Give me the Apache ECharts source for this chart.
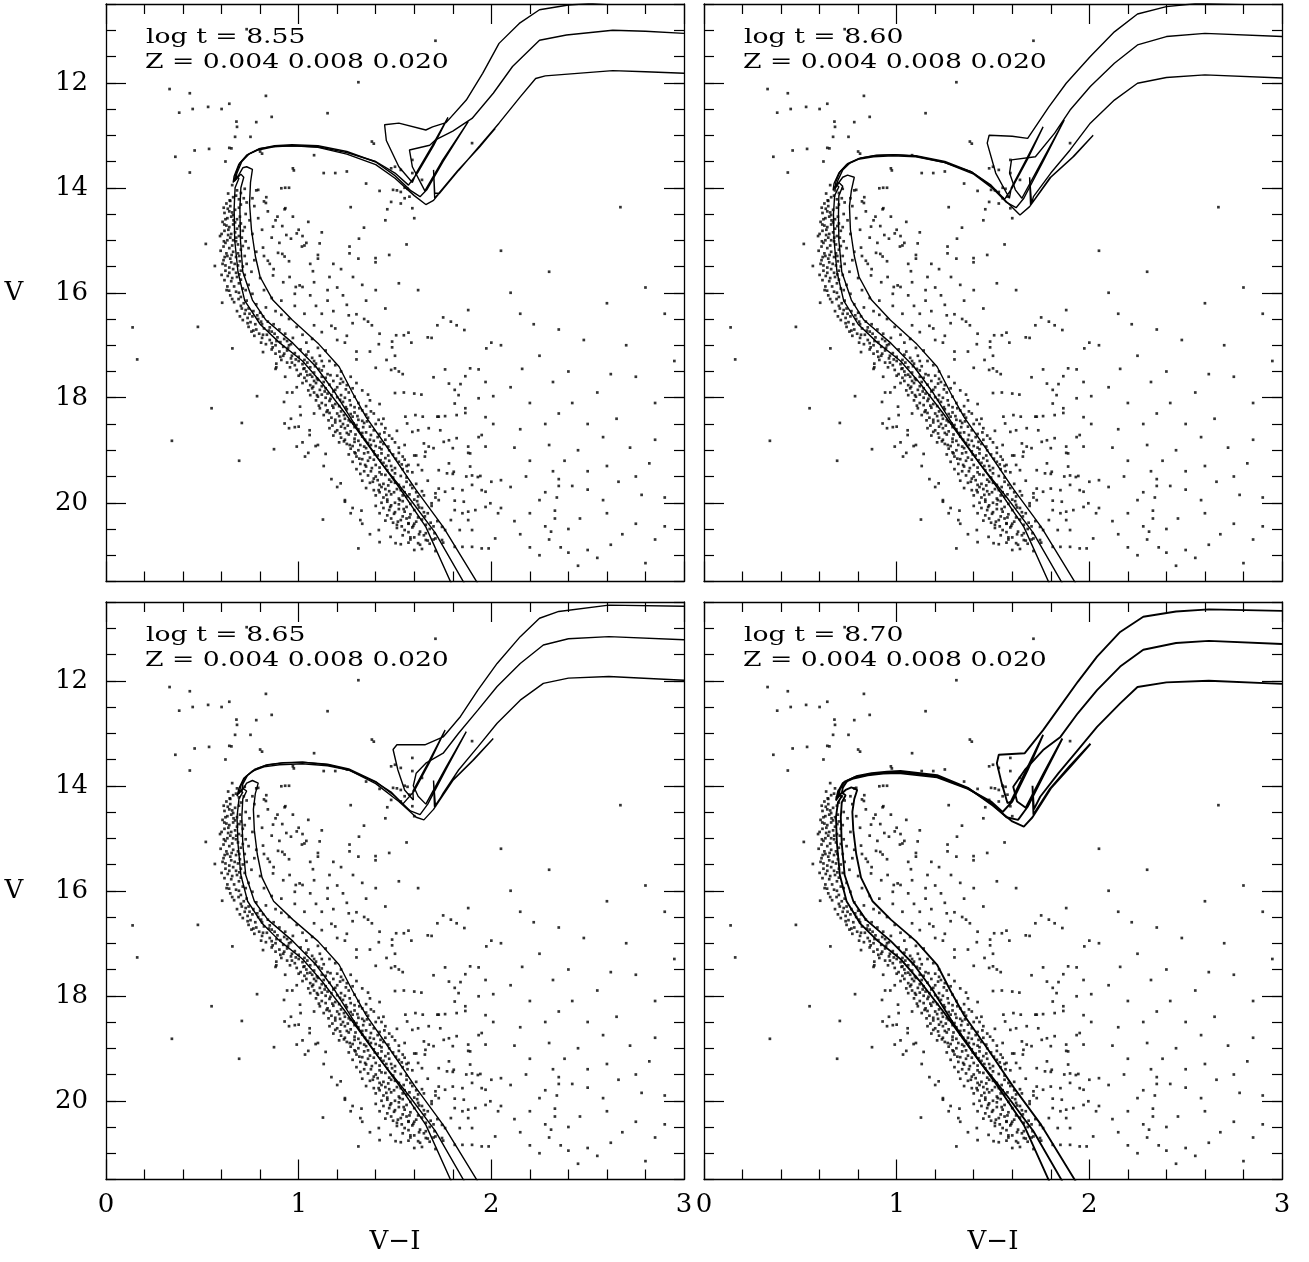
<!DOCTYPE html>
<html>
<head>
<meta charset="utf-8">
<script src="https://cdn.jsdelivr.net/npm/echarts@6/dist/echarts.min.js"></script>
<style>
html, body { margin: 0; padding: 0; background: #fff; }
#chart { width: 1309px; height: 1262px; }
</style>
</head>
<body>
<div id="chart"></div>
<script>
// panel labels
const ages = ['8.55', '8.60', '8.65', '8.70']
const metals = ['0.004', '0.008', '0.020']
const xTicks = [0, 1, 2, 3]
const yTicks = [12, 14, 16, 18, 20]

// observed stars (V-I, V), same field in every panel
const stars = [
  [0.33,12.12],[0.435,12.2],[0.38,12.57],[0.45,12.5],[0.53,12.46],[0.60,12.5],[0.64,12.4],[0.83,12.25],
  [0.68,12.84],[0.78,12.75],[0.86,12.65],[0.67,13.03],[0.75,13.03],[0.36,13.41],[0.46,13.29],[0.535,13.26],
  [0.64,13.24],[0.62,13.5],[0.435,13.71],[1.31,11.99],[1.71,11.2],[1.15,12.58],[0.73,10.98],[1.38,13.12],
  [1.39,13.16],[0.97,13.63],[0.975,13.67],[1.08,13.38],[1.13,13.72],[1.19,13.72],[1.25,13.69],[1.35,13.92],
  [1.42,14.06],[1.48,13.63],[1.50,13.6],[1.53,13.66],[1.49,14.04],[1.51,14.05],[1.53,14.08],[1.55,14.0],
  [1.64,13.85],[1.59,13.47],[0.80,13.31],[0.81,13.35],[0.91,14.01],[0.93,14.0],[0.79,14.04],[1.90,13.15],
  [2.67,14.37],[1.575,14.17],[1.48,14.27],[1.59,14.39],[1.60,14.58],[1.46,14.41],[1.55,14.2],[1.565,14.02],
  [1.59,13.72],[0.651,13.25],[0.677,12.74],
  [0.634,14.11],[0.642,14.24],[0.611,14.38],[0.64,14.45],[0.66,14.52],[0.63,14.58],[0.592,14.92],[0.565,15.49],
  [0.518,15.07],[0.138,16.66],[0.162,17.27],[0.477,16.65],[0.656,17.06],[0.548,18.2],[0.784,17.97],[0.884,17.35],
  [0.884,17.42],[0.815,17.13],[0.603,16.19],[0.639,15.96],
  [0.927,14.41],[0.927,15.31],[1.017,15.12],[1.03,15.1],[1.04,15.05],[1.10,15.28],[1.10,15.35],[1.264,15.12],
  [1.264,15.25],[1.313,14.97],[1.339,14.76],[1.399,15.34],[1.399,15.42],[1.47,15.28],[1.52,15.82],[1.33,15.85],
  [1.282,15.7],[1.2,15.9],[1.25,16.23],[1.16,15.7],[1.074,15.59],[1.005,15.86],[0.985,15.89],[1.02,15.89],
  [0.953,15.7],[0.867,15.67],[0.85,15.45],[0.84,15.39],[0.815,15.14],[0.893,15.24],[0.915,15.26],[0.96,14.97],
  [0.99,14.87],[1.109,15.06],[0.931,14.39],[0.832,14.18],[0.78,14.05],[0.82,14.26],[0.83,14.29],[1.27,14.37],
  [0.95,14.0],[1.26,16.43],[1.30,16.41],[1.34,16.5],[1.36,16.55],[1.38,16.62],[1.17,16.63],[1.19,16.68],
  [1.25,16.82],[1.30,17.27],[1.42,16.78],[1.485,16.93],[1.40,17.43],[1.37,17.12],[1.30,17.12],[1.52,17.5],
  [1.54,17.55],[1.50,17.91],[1.50,17.2],[1.62,15.95],[1.56,15.08],[1.45,14.62],[1.53,14.3],
  [0.867,14.74],[0.915,14.73],[0.936,14.9],[1.0,14.8],[0.89,14.55],[0.86,14.95],[1.05,14.65],[1.12,14.85],
  [1.18,15.45],[1.22,15.55],[1.31,15.35],[1.15,15.95],[1.06,16.05],[1.09,16.25],[0.98,16.25],[1.12,16.4],
  [1.23,16.05],[1.40,15.95],[1.45,16.3],[1.35,16.15],
  [0.84,14.45],[0.88,14.62],[0.97,14.55],[1.02,14.92],[0.9,15.05],[0.95,15.4],[1.06,15.45],[0.87,15.55],
  [0.92,15.8],[1.08,15.8],[0.98,16.02],[1.15,16.15],[0.91,16.15],[1.03,16.4],[1.18,16.35],[1.08,16.62],
  [1.2,16.9],[1.12,16.75],[1.28,16.58],[1.24,16.95],
  [0.655,13.95],[0.68,14.05],[0.70,14.1],[0.72,14.02],[0.66,14.18],[0.69,14.22],[0.625,14.3],[0.645,14.35],
  [0.70,14.32],[0.73,14.28],[0.76,14.2],[0.77,14.35],[0.67,14.42],[0.615,14.48],[0.65,14.55],[0.68,14.6],
  [0.605,14.65],[0.625,14.72],[0.66,14.7],[0.70,14.68],[0.745,14.62],[0.79,14.58],[0.635,14.8],[0.67,14.85],
  [0.71,14.82],[0.60,14.88],[0.645,14.95],[0.69,14.92],[0.76,14.88],[0.81,14.8],[0.66,15.0],[0.62,15.05],
  [0.685,15.08],[0.725,15.02],[0.64,15.15],[0.595,15.2],[0.66,15.22],[0.70,15.18],[0.74,15.15],[0.78,15.22],
  [0.63,15.3],[0.675,15.32],[0.61,15.38],[0.65,15.42],[0.695,15.4],[0.73,15.45],[0.77,15.38],[0.82,15.3],
  [0.62,15.48],[0.66,15.55],[0.70,15.58],[0.64,15.62],[0.60,15.66],[0.68,15.7],[0.72,15.66],[0.755,15.6],
  [0.80,15.72],[0.65,15.78],[0.69,15.82],[0.63,15.88],[0.71,15.92],[0.74,15.85],[0.675,15.98],[0.645,16.05],
  [0.70,16.08],[0.76,16.02],[0.82,15.95],[0.73,16.15],[0.86,16.1],[0.665,16.18],
  [0.675,14.15],[0.645,14.25],[0.715,14.2],[0.69,14.38],[0.655,14.47],[0.725,14.5],[0.62,14.6],[0.695,14.55],
  [0.67,14.66],[0.64,14.75],[0.72,14.75],[0.615,14.82],[0.68,14.78],[0.65,14.88],[0.705,14.95],[0.63,15.0],
  [0.675,15.02],[0.61,15.12],[0.655,15.1],[0.71,15.11],[0.685,15.25],[0.625,15.25],[0.72,15.3],[0.645,15.35],
  [0.605,15.45],[0.685,15.48],[0.64,15.52],[0.71,15.5],[0.62,15.58],[0.675,15.62],[0.655,15.72],[0.615,15.76],
  [0.70,15.75],[0.665,15.88],[0.725,15.95],[0.69,16.0],[0.655,16.12],[0.715,16.2],
  [0.632,14.4],[0.662,14.62],[0.614,14.7],[0.692,14.73],[0.634,14.9],[0.676,14.95],[0.612,15.02],[0.652,15.28],
  [0.692,15.3],[0.616,15.32],[0.668,15.45],[0.632,15.68],[0.692,15.65],[0.626,15.95],[0.688,16.12],
  [0.70,16.25],[0.74,16.3],[0.78,16.22],[0.83,16.28],[0.68,16.35],[0.72,16.4],[0.76,16.45],[0.80,16.38],
  [0.88,16.35],[0.91,16.42],[0.71,16.52],[0.75,16.56],[0.79,16.5],[0.84,16.55],[0.87,16.6],[0.95,16.5],
  [0.74,16.65],[0.78,16.7],[0.82,16.68],[0.86,16.74],[0.90,16.7],[0.93,16.78],[0.99,16.65],[0.77,16.82],
  [0.81,16.86],[0.85,16.9],[0.89,16.85],[0.94,16.92],[0.97,16.86],[1.02,16.8],[0.83,16.98],[0.88,17.0],
  [0.92,17.03],[0.96,16.98],[1.04,16.95],[1.07,16.88],
  [0.725,16.33],[0.765,16.35],[0.695,16.45],[0.815,16.45],[0.735,16.48],[0.775,16.6],[0.81,16.6],[0.85,16.66],
  [0.755,16.74],[0.795,16.78],[0.835,16.8],[0.875,16.78],[0.805,16.95],[0.86,16.96],[0.905,16.94],[0.95,17.0],
  [0.705,16.3],[0.745,16.4],[0.785,16.43],[0.735,16.58],[0.805,16.55],[0.765,16.72],[0.845,16.72],[0.815,16.8],
  [0.885,16.92],[0.925,16.88],[0.865,17.04],[0.945,17.05],[0.905,17.22],[0.985,17.27],[1.045,17.33],[0.965,17.33],
  [1.025,17.45],[1.085,17.4],
  [0.86,17.08],[0.90,17.12],[0.94,17.1],[0.98,17.15],[1.01,17.08],[1.05,17.12],[1.10,17.05],[1.14,17.1],
  [0.92,17.2],[0.96,17.25],[1.0,17.22],[1.03,17.28],[1.07,17.24],[1.11,17.2],[1.16,17.3],[0.94,17.33],
  [0.98,17.38],[1.02,17.36],[1.06,17.42],[1.09,17.35],[1.13,17.4],[1.19,17.38],[0.99,17.47],[1.04,17.5],
  [1.08,17.52],[1.12,17.48],[1.15,17.55],[1.22,17.5],
  [0.88,17.16],[0.925,17.16],[0.965,17.2],[1.04,17.18],[1.08,17.3],[0.91,17.28],[1.0,17.3],[1.12,17.3],
  [0.955,17.42],[1.03,17.44],[1.105,17.45],[1.01,17.55],[1.06,17.56],[1.12,17.6],[1.2,17.58],[1.04,17.68],
  [1.08,17.68],[1.13,17.7],[1.23,17.7],[1.07,17.82],[1.14,17.82],[1.19,17.85],[1.28,17.82],[1.12,17.94],
  [1.17,17.95],[1.24,18.0],
  [1.0,17.58],[1.03,17.62],[1.07,17.6],[1.10,17.66],[1.14,17.62],[1.18,17.68],[1.22,17.64],[1.27,17.6],
  [1.02,17.72],[1.06,17.76],[1.09,17.72],[1.12,17.78],[1.16,17.75],[1.2,17.8],[1.25,17.76],[1.30,17.72],
  [1.05,17.86],[1.08,17.9],[1.11,17.85],[1.15,17.92],[1.18,17.88],[1.22,17.95],[1.26,17.9],[1.33,17.86],
  [1.1,17.98],[1.14,18.0],[1.2,17.99],[1.29,17.98],[1.36,17.94],
  [1.045,17.57],[1.095,17.63],[1.165,17.57],[1.215,17.73],[1.075,17.79],[1.135,17.88],[1.245,17.84],[1.095,17.95],
  [1.165,18.02],[1.215,18.04],[1.265,18.05],[1.105,18.15],[1.175,18.15],[1.245,18.18],[1.315,18.2],[1.145,18.27],
  [1.235,18.33],[1.305,18.35],[1.375,18.26],[1.155,18.43],[1.215,18.44],[1.285,18.49],[1.355,18.45],[1.415,18.42],
  [1.09,18.05],[1.12,18.1],[1.16,18.06],[1.19,18.12],[1.23,18.08],[1.27,18.14],[1.31,18.1],[1.37,18.05],
  [1.42,18.12],[1.11,18.2],[1.15,18.24],[1.18,18.19],[1.22,18.26],[1.25,18.22],[1.29,18.28],[1.33,18.24],
  [1.39,18.3],[1.13,18.33],[1.17,18.38],[1.21,18.35],[1.24,18.4],[1.28,18.36],[1.31,18.42],[1.36,18.38],
  [1.44,18.4],[1.19,18.47],[1.23,18.5],[1.27,18.46],[1.3,18.52],[1.34,18.48],[1.4,18.5],
  [1.14,18.14],[1.21,18.16],[1.29,18.18],[1.35,18.16],[1.16,18.29],[1.2,18.3],[1.27,18.31],[1.35,18.32],
  [1.19,18.42],[1.26,18.43],[1.33,18.44],[1.22,18.55],[1.29,18.56],[1.37,18.55],[1.43,18.5],[1.19,18.65],
  [1.25,18.67],[1.33,18.67],[1.42,18.69],[1.24,18.8],[1.31,18.82],[1.39,18.82],[1.45,18.8],[1.28,18.92],
  [1.34,18.93],[1.42,18.95],[1.52,18.95],
  [1.175,18.53],[1.255,18.53],[1.335,18.56],[1.215,18.68],[1.295,18.7],[1.375,18.71],[1.445,18.66],[1.235,18.83],
  [1.345,18.8],[1.425,18.84],[1.485,18.78],[1.265,18.9],[1.375,18.9],[1.465,18.93],[1.295,19.06],[1.395,19.08],
  [1.465,19.1],[1.315,19.16],[1.425,19.19],[1.505,19.16],[1.345,19.28],[1.455,19.3],[1.535,19.27],[1.375,19.4],
  [1.485,19.38],[1.565,19.4],
  [1.16,18.58],[1.2,18.62],[1.24,18.58],[1.27,18.64],[1.31,18.6],[1.35,18.66],[1.39,18.62],[1.45,18.58],
  [1.51,18.63],[1.18,18.72],[1.22,18.76],[1.26,18.7],[1.29,18.78],[1.33,18.74],[1.37,18.8],[1.41,18.75],
  [1.47,18.72],[1.21,18.85],[1.25,18.88],[1.29,18.84],[1.32,18.9],[1.36,18.86],[1.4,18.92],[1.44,18.88],
  [1.5,18.85],[1.55,18.9],[1.27,18.97],[1.31,19.0],[1.35,18.96],[1.39,19.02],[1.43,18.98],[1.47,19.0],
  [1.26,19.08],[1.3,19.12],[1.34,19.06],[1.37,19.14],[1.41,19.1],[1.45,19.15],[1.49,19.08],[1.54,19.12],
  [1.6,19.1],[1.28,19.22],[1.32,19.26],[1.36,19.2],[1.4,19.28],[1.44,19.24],[1.48,19.3],[1.52,19.22],
  [1.57,19.28],[1.3,19.36],[1.34,19.4],[1.38,19.34],[1.42,19.42],[1.46,19.38],[1.5,19.44],[1.54,19.36],
  [1.59,19.42],[1.64,19.38],[1.36,19.48],[1.4,19.5],[1.45,19.47],[1.49,19.52],[1.53,19.49],
  [1.29,19.04],[1.36,19.04],[1.43,19.06],[1.52,19.05],[1.33,19.17],[1.39,19.18],[1.47,19.2],[1.55,19.18],
  [1.35,19.31],[1.42,19.33],[1.5,19.34],[1.56,19.3],[1.32,19.45],[1.43,19.46],[1.47,19.56],[1.56,19.52],
  [1.39,19.54],[1.5,19.62],[1.58,19.66],[1.42,19.66],[1.45,19.74],[1.53,19.76],[1.61,19.8],[1.42,19.8],
  [1.46,19.94],[1.54,19.86],[1.62,19.88],
  [1.385,19.6],[1.465,19.67],[1.545,19.7],[1.415,19.76],[1.495,19.8],[1.575,19.84],[1.455,19.85],[1.525,19.95],
  [1.615,19.97],[1.475,20.08],[1.545,20.12],[1.625,20.09],[1.495,20.21],[1.575,20.28],[1.655,20.26],[1.515,20.36],
  [1.595,20.44],[1.685,20.38],[1.535,20.45],[1.625,20.6],[1.705,20.58],
  [1.33,19.58],[1.37,19.62],[1.41,19.57],[1.44,19.64],[1.48,19.6],[1.52,19.66],[1.56,19.6],[1.61,19.64],
  [1.67,19.58],[1.35,19.72],[1.39,19.76],[1.43,19.7],[1.47,19.78],[1.51,19.74],[1.55,19.8],[1.59,19.72],
  [1.64,19.78],[1.4,19.86],[1.44,19.9],[1.48,19.84],[1.52,19.92],[1.56,19.88],[1.6,19.94],[1.65,19.86],
  [1.71,19.9],[1.46,19.98],[1.5,20.0],[1.54,19.97],[1.58,20.02],
  [1.4,20.06],[1.44,20.1],[1.48,20.05],[1.52,20.12],[1.56,20.08],[1.6,20.14],[1.64,20.1],[1.69,20.06],
  [1.42,20.2],[1.46,20.24],[1.5,20.18],[1.54,20.26],[1.58,20.22],[1.62,20.28],[1.67,20.2],[1.45,20.34],
  [1.49,20.38],[1.53,20.33],[1.57,20.4],[1.61,20.36],[1.66,20.42],[1.72,20.35],[1.51,20.48],[1.55,20.52],
  [1.59,20.47],[1.63,20.55],[1.68,20.5],[1.54,20.62],[1.6,20.66],[1.65,20.62],[1.7,20.7],[1.57,20.76],
  [1.63,20.8],[1.68,20.78],[1.75,20.76],[1.6,20.9],[1.71,20.92],
  [1.43,20.0],[1.52,20.03],[1.62,20.04],[1.47,20.14],[1.55,20.17],[1.65,20.18],[1.48,20.3],[1.56,20.3],
  [1.64,20.32],[1.51,20.42],[1.6,20.4],[1.7,20.45],[1.57,20.56],[1.66,20.58],[1.58,20.7],[1.67,20.72],
  [1.64,20.88],
  [1.0,18.55],[0.96,18.4],[1.02,18.85],[1.05,19.05],[1.1,18.9],[1.13,19.3],[1.17,19.55],[1.2,19.7],
  [1.24,19.95],[1.28,20.1],[1.33,20.4],[1.37,20.6],[1.42,20.75],[1.08,18.3],[1.06,17.95],[0.99,17.8],
  [0.93,17.6],[0.88,17.45],[0.705,18.48],[0.691,19.2],[0.872,18.98],[0.924,18.08],[0.94,17.9],[0.967,17.9],
  [1.007,18.17],[1.01,18.33],[0.927,18.49],[0.95,18.58],[0.98,18.56],[1.057,18.62],[1.057,18.71],[1.033,19.12],
  [0.99,18.93],[1.088,18.92],[1.126,20.32],[1.14,19.07],[1.218,19.63],[1.27,20.2],[1.24,19.98],[1.31,20.87],
  [1.32,20.33],[1.326,20.15],[0.342,18.82],
  [1.416,20.52],[1.477,20.65],[1.503,20.77],[1.53,20.79],[1.57,20.39],[1.58,20.66],[1.62,20.77],[1.66,20.71],
  [1.71,20.68],[1.744,20.71],[1.76,20.52],[1.81,20.84],[1.85,20.84],[1.90,20.84],[1.95,20.87],[1.986,20.87],
  [2.02,20.68],[1.90,20.52],[1.88,20.33],[1.85,20.2],[1.917,20.14],[1.97,20.08],[2.035,20.2],[1.995,20.01],
  [1.95,19.76],[1.97,19.79],[1.943,19.49],[1.87,19.5],[1.90,19.48],[1.93,19.51],[1.9,19.66],[2.0,19.6],
  [2.05,19.57],[1.857,19.98],[1.88,20.17],[1.81,19.96],[1.85,19.76],[1.79,20.33],[1.744,20.46],[1.836,20.52],
  [1.81,20.14],[1.76,19.79],[1.77,19.44],[1.80,19.45],[1.78,19.25],[1.89,19.31],[1.88,19.05],[1.80,18.96],
  [1.82,18.77],[1.753,18.84],[1.78,18.81],[1.70,18.96],[1.735,18.62],[1.76,18.35],[1.82,18.33],[1.865,18.29],
  [1.727,18.36],[1.81,18.11],[1.865,18.2],[1.934,18.01],[1.97,18.37],[2.01,18.5],[1.95,18.71],[1.934,18.75],
  [1.88,18.93],[1.97,18.93],[1.89,19.06],[2.01,17.97],[1.97,17.7],[1.974,17.06],[2.0,16.95],[1.934,17.46],
  [1.89,17.44],[1.865,17.59],[1.81,17.85],[1.78,17.73],[1.84,17.74],[1.76,17.46],[1.70,17.61],[1.83,17.95],
  [1.88,16.33],[1.82,16.62],[1.86,16.71],[1.79,16.55],[1.75,16.47],[1.72,16.62],[1.67,16.85],[1.69,16.86],
  [1.585,16.95],[1.57,16.76],[1.546,16.81],[1.506,16.81],[1.485,17.04],[1.416,16.98],[1.48,17.47],[1.456,17.28],
  [1.5,17.44],[1.546,17.9],[1.60,17.92],[1.62,18.62],[1.637,17.94],[1.675,18.58],[1.72,18.36],[1.606,18.33],
  [1.554,18.36],[1.563,18.49],[1.644,18.36],[1.59,18.65],[1.65,18.87],[1.675,18.93],[1.658,19.03],[1.655,19.12],
  [1.61,19.1],[1.62,19.28],[1.727,19.38],[1.805,19.41],[1.80,19.73],[1.727,19.73],[1.71,19.82],[1.727,19.95],
  [1.69,20.01],
  [2.05,15.2],[2.1,16.0],[2.3,15.6],[2.15,16.4],[2.35,16.7],[2.6,16.2],
  [2.8,15.9],[2.05,17.0],[2.25,17.2],[2.4,17.5],[2.1,17.8],[2.55,17.9],[2.75,17.6],[2.95,17.3],
  [2.2,18.1],[2.35,18.3],[2.5,18.5],[2.15,18.6],[2.65,18.4],[2.85,18.8],[2.3,18.9],[2.45,19.0],
  [2.2,19.2],[2.32,19.4],[2.35,19.55],[2.6,19.3],[2.75,19.5],[2.1,19.7],[2.28,19.8],[2.34,19.9],
  [2.5,19.75],[2.9,19.9],[2.05,20.1],[2.2,20.2],[2.33,20.3],[2.4,20.5],[2.6,20.2],[2.75,20.4],
  [2.15,20.6],[2.3,20.7],[2.36,20.85],[2.5,20.9],[2.85,20.7],[2.25,21.0],[2.45,21.2],
  [2.9,16.4],[2.22,16.6],[2.48,16.9],[2.7,17.0],[2.16,17.45],
  [2.32,17.7],[2.62,17.55],[2.85,18.1],[2.42,18.1],[2.28,18.5],[2.58,18.75],[2.72,18.95],[2.12,18.95],
  [2.38,19.2],[2.5,19.4],[2.66,19.6],[2.82,19.25],[2.18,19.5],[2.42,19.68],[2.25,19.95],[2.58,19.95],
  [2.78,19.85],[2.12,20.35],[2.28,20.45],[2.46,20.3],[2.68,20.6],[2.9,20.45],[2.2,20.85],[2.4,20.95],
  [2.62,20.8],[2.33,20.15],[2.35,19.68],[2.31,20.55],[2.55,21.05],[2.8,21.15]
]

// isochrones, one polyline per metallicity (Z = 0.004, 0.008, 0.020)
const iso855a = [
  [1.80,21.6],[1.66,20.46],[1.52,19.7],[1.38,19.0],[1.24,18.29],[1.12,17.72],[1.02,17.3],[0.90,16.95],
  [0.80,16.6],[0.72,16.15],[0.685,15.6],[0.668,15.0],[0.665,14.4],[0.67,14.0],[0.69,13.82],[0.675,13.79],
  [0.66,13.9],[0.665,13.78],[0.69,13.55],[0.73,13.38],[0.79,13.28],[0.87,13.22],[0.96,13.2],[1.10,13.22],
  [1.25,13.33],[1.40,13.5],[1.50,13.72],[1.57,13.95],[1.62,13.7],[1.70,13.2],[1.775,12.66],[1.768,12.68],
  [1.693,13.2],[1.613,13.7],[1.59,13.9],[1.52,13.6],[1.455,13.1],[1.446,12.8],[1.52,12.77],[1.66,12.9],
  [1.695,12.84],[1.765,12.76],[1.87,12.33],[1.955,11.82],[2.04,11.25],[2.145,10.87],[2.25,10.61],[2.40,10.52],
  [2.6,10.47],[3.0,10.45]
]
const iso855b = [
  [1.87,21.6],[1.71,20.58],[1.57,19.89],[1.43,19.25],[1.30,18.56],[1.19,17.91],[1.09,17.41],[0.97,16.96],
  [0.83,16.52],[0.76,16.14],[0.71,15.6],[0.698,15.0],[0.695,14.4],[0.70,14.0],[0.715,13.8],[0.70,13.74],
  [0.665,13.88],[0.672,13.75],[0.695,13.53],[0.735,13.37],[0.795,13.26],[0.875,13.2],[0.965,13.18],[1.10,13.2],
  [1.25,13.31],[1.40,13.51],[1.50,13.77],[1.58,14.05],[1.63,14.17],[1.665,14.04],[1.75,13.5],[1.88,12.74],
  [1.873,12.76],[1.743,13.5],[1.655,14.06],[1.59,13.6],[1.575,13.28],[1.68,13.19],[1.71,13.09],[1.80,12.92],
  [1.90,12.68],[2.01,12.2],[2.11,11.69],[2.25,11.19],[2.39,11.09],[2.63,11.0],[2.80,11.02],[3.0,11.06]
]
const iso855c = [
  [1.94,21.6],[1.75,20.46],[1.61,19.76],[1.47,19.0],[1.35,18.37],[1.28,17.91],[1.21,17.41],[1.10,16.96],
  [0.967,16.52],[0.866,16.14],[0.80,15.7],[0.775,15.3],[0.755,14.8],[0.745,14.3],[0.75,13.9],[0.76,13.65],
  [0.73,13.6],[0.71,13.62],[0.69,13.75],[0.67,13.86],[0.68,13.72],[0.705,13.5],[0.745,13.35],[0.80,13.25],
  [0.88,13.21],[0.97,13.2],[1.10,13.23],[1.25,13.36],[1.40,13.56],[1.50,13.82],[1.60,14.15],[1.66,14.32],
  [1.70,14.24],[1.83,13.66],[1.94,13.22],[2.02,12.87],[2.014,12.9],[1.934,13.24],[1.824,13.68],[1.706,14.2],
  [1.70,13.66],[1.706,14.1],[1.73,14.11],[1.83,13.67],[1.94,13.2],[2.04,12.77],[2.15,12.27],[2.23,11.92],
  [2.28,11.87],[2.63,11.77],[2.80,11.79],[3.0,11.82]
]
const iso860a = [
  [1.80,21.6],[1.66,20.46],[1.52,19.7],[1.38,19.0],[1.24,18.29],[1.12,17.72],[1.02,17.3],[0.90,16.95],
  [0.80,16.6],[0.725,16.15],[0.69,15.6],[0.675,15.0],[0.672,14.5],[0.678,14.15],[0.70,13.98],[0.685,13.95],
  [0.67,14.05],[0.675,13.92],[0.70,13.72],[0.74,13.56],[0.80,13.46],[0.88,13.41],[0.98,13.39],[1.10,13.41],
  [1.25,13.52],[1.39,13.7],[1.49,13.95],[1.56,14.22],[1.60,14.0],[1.68,13.45],[1.76,12.84],[1.753,12.86],
  [1.673,13.46],[1.595,14.0],[1.585,14.2],[1.514,13.72],[1.47,13.15],[1.48,13.0],[1.60,13.02],[1.68,13.06],
  [1.79,12.46],[1.88,12.01],[2.005,11.5],[2.13,11.03],[2.25,10.69],[2.40,10.55],[2.56,10.49],[3.0,10.45]
]
const iso860b = [
  [1.87,21.6],[1.71,20.58],[1.57,19.89],[1.43,19.25],[1.30,18.56],[1.19,17.91],[1.09,17.41],[0.97,16.96],
  [0.83,16.52],[0.765,16.14],[0.715,15.6],[0.70,15.0],[0.698,14.5],[0.70,14.15],[0.72,13.97],[0.70,13.9],
  [0.68,14.02],[0.685,13.88],[0.705,13.7],[0.745,13.54],[0.805,13.44],[0.885,13.39],[0.985,13.37],[1.10,13.39],
  [1.25,13.5],[1.39,13.7],[1.49,13.97],[1.57,14.28],[1.62,14.38],[1.66,14.2],[1.76,13.5],[1.87,12.71],
  [1.863,12.73],[1.753,13.5],[1.65,14.2],[1.616,14.04],[1.586,13.72],[1.596,13.47],[1.72,13.41],[1.82,12.96],
  [1.90,12.52],[2.005,12.07],[2.13,11.63],[2.25,11.28],[2.40,11.12],[2.60,11.06],[3.0,11.12]
]
const iso860c = [
  [1.94,21.6],[1.75,20.46],[1.61,19.76],[1.47,19.0],[1.35,18.37],[1.28,17.91],[1.21,17.41],[1.10,16.96],
  [0.967,16.52],[0.87,16.14],[0.805,15.7],[0.78,15.3],[0.76,14.8],[0.755,14.35],[0.765,14.05],[0.78,13.8],
  [0.745,13.76],[0.72,13.8],[0.70,13.9],[0.684,13.98],[0.695,13.86],[0.72,13.66],[0.76,13.52],[0.815,13.43],
  [0.895,13.38],[0.99,13.37],[1.10,13.4],[1.25,13.52],[1.40,13.74],[1.50,14.02],[1.58,14.3],[1.64,14.52],
  [1.69,14.36],[1.80,13.8],[1.92,13.4],[2.02,13.0],[2.013,13.02],[1.913,13.42],[1.793,13.82],[1.695,14.33],
  [1.69,13.8],[1.70,14.3],[1.71,14.17],[1.80,13.72],[1.90,13.28],[2.005,12.77],[2.13,12.33],[2.25,12.01],
  [2.40,11.9],[2.60,11.85],[3.0,11.91]
]
const iso865a = [
  [1.80,21.6],[1.66,20.46],[1.52,19.7],[1.38,19.0],[1.24,18.29],[1.12,17.72],[1.02,17.3],[0.90,16.95],
  [0.81,16.62],[0.735,16.2],[0.70,15.7],[0.685,15.1],[0.68,14.6],[0.69,14.25],[0.71,14.12],[0.695,14.1],
  [0.68,14.2],[0.69,14.05],[0.715,13.86],[0.76,13.72],[0.82,13.64],[0.90,13.6],[1.02,13.58],[1.15,13.62],
  [1.26,13.7],[1.40,13.93],[1.48,14.12],[1.54,14.35],[1.60,14.1],[1.68,13.55],[1.76,12.94],[1.753,12.96],
  [1.673,13.56],[1.593,14.1],[1.595,14.27],[1.55,14.08],[1.515,13.7],[1.49,13.31],[1.51,13.22],[1.655,13.22],
  [1.75,13.07],[1.84,12.68],[1.93,12.18],[2.03,11.67],[2.15,11.16],[2.25,10.81],[2.35,10.68],[2.61,10.56],
  [3.0,10.58]
]
const iso865b = [
  [1.87,21.6],[1.71,20.58],[1.57,19.89],[1.43,19.25],[1.30,18.56],[1.19,17.91],[1.09,17.41],[0.97,16.96],
  [0.84,16.55],[0.77,16.2],[0.725,15.7],[0.71,15.1],[0.705,14.6],[0.71,14.25],[0.73,14.1],[0.71,14.05],
  [0.69,14.15],[0.70,14.0],[0.725,13.83],[0.77,13.69],[0.83,13.61],[0.91,13.57],[1.02,13.55],[1.15,13.59],
  [1.26,13.68],[1.40,13.92],[1.50,14.2],[1.58,14.48],[1.63,14.55],[1.67,14.35],[1.77,13.65],[1.87,12.97],
  [1.863,12.99],[1.763,13.66],[1.66,14.35],[1.62,14.2],[1.595,14.0],[1.61,13.76],[1.66,13.57],[1.75,13.38],
  [1.83,13.0],[1.93,12.56],[2.03,12.11],[2.15,11.67],[2.27,11.32],[2.40,11.2],[2.61,11.16],[3.0,11.22]
]
const iso865c = [
  [1.94,21.6],[1.75,20.46],[1.61,19.76],[1.47,19.0],[1.35,18.37],[1.28,17.91],[1.21,17.41],[1.10,16.96],
  [0.97,16.55],[0.87,16.2],[0.81,15.75],[0.785,15.3],[0.77,14.85],[0.765,14.45],[0.775,14.15],[0.79,13.95],
  [0.76,13.9],[0.73,13.95],[0.705,14.1],[0.71,13.97],[0.735,13.8],[0.78,13.68],[0.84,13.6],[0.92,13.56],
  [1.02,13.55],[1.15,13.6],[1.26,13.7],[1.40,13.96],[1.52,14.3],[1.61,14.6],[1.65,14.65],[1.70,14.45],
  [1.80,13.9],[1.91,13.5],[2.01,13.1],[2.003,13.12],[1.903,13.52],[1.793,13.92],[1.705,14.4],[1.70,13.9],
  [1.71,14.4],[1.75,14.14],[1.83,13.7],[1.93,13.26],[2.03,12.81],[2.15,12.37],[2.27,12.05],[2.40,11.95],
  [2.61,11.92],[3.0,11.99]
]
const iso870a = [
  [1.80,21.6],[1.66,20.46],[1.52,19.7],[1.38,19.0],[1.24,18.29],[1.12,17.72],[1.02,17.3],[0.90,16.95],
  [0.81,16.62],[0.74,16.2],[0.705,15.7],[0.69,15.1],[0.685,14.6],[0.695,14.32],[0.715,14.2],[0.70,14.18],
  [0.685,14.28],[0.695,14.12],[0.72,13.95],[0.77,13.87],[0.85,13.8],[0.93,13.77],[1.01,13.76],[1.21,13.84],
  [1.37,14.06],[1.49,14.3],[1.55,14.5],[1.60,14.3],[1.68,13.7],[1.76,13.03],[1.753,13.05],[1.673,13.7],
  [1.593,14.3],[1.575,14.33],[1.545,13.95],[1.52,13.57],[1.53,13.41],[1.665,13.38],[1.76,12.94],[1.84,12.53],
  [1.94,12.02],[2.04,11.54],[2.16,11.07],[2.28,10.78],[2.45,10.68],[2.62,10.64],[3.0,10.67]
]
const iso870b = [
  [1.87,21.6],[1.71,20.58],[1.57,19.89],[1.43,19.25],[1.30,18.56],[1.19,17.91],[1.09,17.41],[0.97,16.96],
  [0.84,16.55],[0.775,16.2],[0.73,15.7],[0.715,15.1],[0.71,14.6],[0.715,14.32],[0.735,14.18],[0.715,14.13],
  [0.695,14.22],[0.705,14.07],[0.73,13.92],[0.78,13.84],[0.86,13.78],[0.94,13.75],[1.02,13.74],[1.21,13.82],
  [1.37,14.05],[1.49,14.33],[1.57,14.6],[1.63,14.65],[1.68,14.4],[1.77,13.75],[1.86,13.1],[1.853,13.12],
  [1.763,13.76],[1.67,14.42],[1.625,14.3],[1.605,14.02],[1.665,13.7],[1.76,13.32],[1.85,13.07],[1.94,12.62],
  [2.04,12.18],[2.16,11.73],[2.28,11.41],[2.45,11.28],[2.62,11.24],[3.0,11.3]
]
const iso870c = [
  [1.94,21.6],[1.75,20.46],[1.61,19.76],[1.47,19.0],[1.35,18.37],[1.28,17.91],[1.21,17.41],[1.10,16.96],
  [0.97,16.55],[0.875,16.2],[0.815,15.75],[0.79,15.3],[0.775,14.85],[0.77,14.5],[0.78,14.25],[0.795,14.08],
  [0.765,14.03],[0.735,14.08],[0.715,14.15],[0.72,14.04],[0.745,13.9],[0.79,13.82],[0.87,13.76],[0.95,13.73],
  [1.02,13.72],[1.21,13.8],[1.37,14.04],[1.50,14.38],[1.60,14.68],[1.66,14.78],[1.705,14.6],[1.80,14.05],
  [1.91,13.6],[2.006,13.2],[1.999,13.22],[1.899,13.62],[1.793,14.07],[1.71,14.55],[1.705,14.0],[1.712,14.45],
  [1.745,14.21],[1.84,13.76],[1.94,13.32],[2.04,12.88],[2.16,12.43],[2.25,12.12],[2.40,12.03],[2.62,12.0],
  [3.0,12.06]
]
const isochrones = [
  [iso855a, iso855b, iso855c],
  [iso860a, iso860b, iso860c],
  [iso865a, iso865b, iso865c],
  [iso870a, iso870b, iso870c]
]

const chart = echarts.init(document.getElementById('chart'), null, { renderer: 'canvas' })

const FONT = 'DejaVu Serif'
const W = 578, H = 577.5
const panels = [
  { left: 106, top: 4, xLab: false, yLab: true },
  { left: 704, top: 4, xLab: false, yLab: false },
  { left: 106, top: 602, xLab: true, yLab: true },
  { left: 704, top: 602, xLab: true, yLab: false }
]
const lineCol = '#000'

const grids = [], xAxes = [], yAxes = [], series = [], graphics = []

panels.forEach((p, i) => {
  grids.push({ left: p.left, top: p.top, width: W, height: H, outerBoundsMode: 'none', containLabel: false })
  ;['bottom', 'top'].forEach(pos => {
    xAxes.push({
      gridIndex: i, type: 'value', position: pos, min: 0, max: 3, interval: 1,
      axisLine: { show: true, onZero: false, lineStyle: { color: lineCol, width: 1.3 } },
      axisTick: { show: true, inside: true, length: 20, lineStyle: { color: lineCol, width: 1.2 } },
      minorTick: { show: true, splitNumber: 5, length: 10, lineStyle: { color: lineCol, width: 1.2 } },
      splitLine: { show: false }, minorSplitLine: { show: false },
      axisLabel: {
        show: pos === 'bottom' && p.xLab, margin: 13, color: '#000',
        fontFamily: FONT, fontSize: 26, customValues: xTicks
      }
    })
  })
  ;['left', 'right'].forEach(pos => {
    // minor ticks every 0.5 mag
    yAxes.push({
      gridIndex: i, type: 'value', position: pos, inverse: true, min: 10.5, max: 21.5, interval: 0.5,
      axisLine: { show: true, onZero: false, lineStyle: { color: lineCol, width: 1.3 } },
      axisTick: { show: true, inside: true, length: 10, lineStyle: { color: lineCol, width: 1.2 } },
      splitLine: { show: false },
      axisLabel: { show: false }
    })
    // major ticks with labels
    yAxes.push({
      gridIndex: i, type: 'value', position: pos, inverse: true, min: 10.5, max: 21.5, interval: 0.5,
      axisLine: { show: false, onZero: false },
      axisTick: { show: true, inside: true, length: 20, customValues: yTicks, lineStyle: { color: lineCol, width: 1.2 } },
      splitLine: { show: false },
      axisLabel: {
        show: pos === 'left' && p.yLab, customValues: yTicks, margin: 18, color: '#000',
        fontFamily: FONT, fontSize: 26
      }
    })
  })

  series.push({
    type: 'scatter', xAxisIndex: i * 2, yAxisIndex: i * 4, data: stars,
    symbol: 'rect', symbolSize: 2.7, itemStyle: { color: '#000' }, silent: true, z: 2
  })
  isochrones[i].forEach(iso => {
    series.push({
      type: 'line', xAxisIndex: i * 2, yAxisIndex: i * 4, data: iso,
      showSymbol: false, symbol: 'none', clip: true, silent: true, z: 3,
      lineStyle: { color: '#000', width: i === 3 ? 1.9 : 1.4 }
    })
  })

  graphics.push({
    type: 'text', x: p.left + 40, y: p.top + 34, scaleX: 1.27,
    style: { text: 'log t = ' + ages[i], font: '21px "' + FONT + '"', fill: '#000', verticalAlign: 'middle' }
  })
  graphics.push({
    type: 'text', x: p.left + 39, y: p.top + 59, scaleX: 1.27,
    style: { text: 'Z = ' + metals.join(' '), font: '21px "' + FONT + '"', fill: '#000', verticalAlign: 'middle' }
  })
  if (p.yLab) {
    graphics.push({
      type: 'text', x: 14, y: p.top + H / 2,
      style: { text: 'V', font: '26px "' + FONT + '"', fill: '#000', align: 'center', verticalAlign: 'middle' }
    })
  }
  if (p.xLab) {
    graphics.push({
      type: 'text', x: p.left + W / 2, y: 1242,
      style: { text: 'V\u2212I', font: '26px "' + FONT + '"', fill: '#000', align: 'center', verticalAlign: 'middle' }
    })
  }
})

chart.setOption({
  animation: false,
  backgroundColor: '#fff',
  grid: grids,
  xAxis: xAxes,
  yAxis: yAxes,
  series: series,
  graphic: graphics
})
</script>
</body>
</html>
